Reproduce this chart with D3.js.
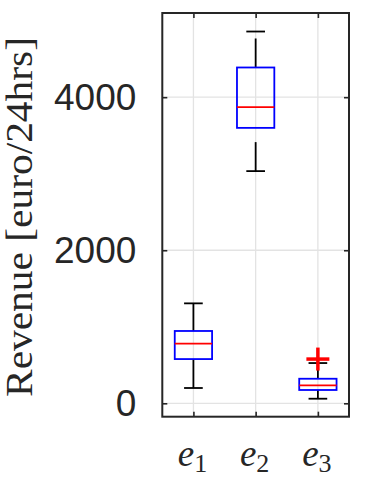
<!DOCTYPE html>
<html><head><meta charset="utf-8">
<script src="https://cdn.jsdelivr.net/npm/d3@7"></script>
<style>body{margin:0;background:#fff}svg{display:block}</style>
</head><body>
<script>
const categories = ["1", "2", "3"];
const q1Values = [578, 3599, 174];
const medianValues = [780, 3869, 235];
const q3Values = [945, 4388, 321];
const whiskerLow = [200, 3034, 60];
const whiskerHigh = [1306, 4858, 526];
const outliers = [[], [], [578]];
const yTicks = [0, 2000, 4000];
const yLabel = "Revenue [euro/24hrs]";

const W = 366, H = 479;
const L = 162.3, R = 349, T = 13, B = 416.7;
const svg = d3.select("body").append("svg").attr("width", W).attr("height", H);

const x = d3.scaleLinear().domain([0.5, 3.5]).range([L, R]);
const y = d3.scaleLinear().domain([-175, 5100]).range([B, T]);
const boxW = x(1.3) - x(1), capW = x(1.15) - x(1);

// grid
const g = svg.append("g");
g.selectAll(".gx").data(categories).enter().append("line")
  .attr("x1", (d,i)=>x(i+1)).attr("x2", (d,i)=>x(i+1)).attr("y1", T).attr("y2", B)
  .attr("stroke", "#e3e3e3").attr("stroke-width", 1.3);
g.selectAll(".gy").data(yTicks).enter().append("line")
  .attr("x1", L).attr("x2", R).attr("y1", d=>y(d)).attr("y2", d=>y(d))
  .attr("stroke", "#e3e3e3").attr("stroke-width", 1.3);

// axes with inward ticks
const axCol = "#262626";
const axL = d3.axisLeft(y).tickValues(yTicks).tickFormat(d3.format("d")).tickSizeInner(-5).tickSizeOuter(0).tickPadding(26);
const axR = d3.axisRight(y).tickValues(yTicks).tickSizeInner(-5).tickSizeOuter(0).tickFormat("");
const axB = d3.axisBottom(x).tickValues([1,2,3]).tickSizeInner(-5).tickSizeOuter(0).tickFormat("");
const axT = d3.axisTop(x).tickValues([1,2,3]).tickSizeInner(-5).tickSizeOuter(0).tickFormat("");
function style(sel){
  sel.selectAll(".domain").remove();
  sel.selectAll(".tick line").attr("stroke", axCol).attr("stroke-width", 1.6);
  sel.selectAll(".tick text").attr("fill", axCol).attr("font-family", "Liberation Sans, Arial, sans-serif").attr("font-size", 37);
}
svg.append("g").attr("transform", `translate(${L},0)`).call(axL).call(style);
svg.append("g").attr("transform", `translate(${R},0)`).call(axR).call(style);
svg.append("g").attr("transform", `translate(0,${B})`).call(axB).call(style);
svg.append("g").attr("transform", `translate(0,${T})`).call(axT).call(style);
svg.append("rect").attr("x", L).attr("y", T).attr("width", R-L).attr("height", B-T)
  .attr("fill", "none").attr("stroke", axCol).attr("stroke-width", 2);

// boxes
const data = categories.map((c,i)=>({i, q1:q1Values[i], med:medianValues[i], q3:q3Values[i], lo:whiskerLow[i], hi:whiskerHigh[i], out:outliers[i]}));
const bg = svg.append("g");
data.forEach(d=>{
  const cx = x(d.i+1);
  bg.append("line").attr("x1", cx).attr("x2", cx).attr("y1", y(d.q3)).attr("y2", y(d.hi))
    .attr("stroke", "#000").attr("stroke-width", 1.8).attr("stroke-dasharray", "29,16");
  bg.append("line").attr("x1", cx).attr("x2", cx).attr("y1", y(d.lo)).attr("y2", y(d.q1))
    .attr("stroke", "#000").attr("stroke-width", 1.8).attr("stroke-dasharray", "29,16");
  [d.lo, d.hi].forEach(v=>bg.append("line").attr("x1", cx-capW).attr("x2", cx+capW).attr("y1", y(v)).attr("y2", y(v))
    .attr("stroke", "#000").attr("stroke-width", 1.8));
  bg.append("rect").attr("x", cx-boxW).attr("width", 2*boxW).attr("y", y(d.q3)).attr("height", y(d.q1)-y(d.q3))
    .attr("fill", "none").attr("stroke", "#0000ff").attr("stroke-width", 1.8);
  bg.append("line").attr("x1", cx-boxW).attr("x2", cx+boxW).attr("y1", y(d.med)).attr("y2", y(d.med))
    .attr("stroke", "#ff0000").attr("stroke-width", 1.8);
  d.out.forEach(v=>{
    bg.append("line").attr("x1", cx-11.5).attr("x2", cx+11.5).attr("y1", y(v)).attr("y2", y(v)).attr("stroke", "#ff0000").attr("stroke-width", 3.5);
    bg.append("line").attr("x1", cx).attr("x2", cx).attr("y1", y(v)-11.5).attr("y2", y(v)+11.5).attr("stroke", "#ff0000").attr("stroke-width", 3.5);
  });
});

// x tick labels e_i
categories.forEach((c,i)=>{
  const t = svg.append("text").attr("x", x(i+1)-1).attr("y", 466).attr("text-anchor", "middle")
    .attr("font-family", "Liberation Serif, 'DejaVu Serif', serif").attr("fill", "#262626");
  t.append("tspan").attr("font-style", "italic").attr("font-size", 37).text("e");
  t.append("tspan").attr("font-size", 26).attr("dy", 6).text(c);
});

// y label
svg.append("text").attr("transform", `translate(32,217) rotate(-90)`).attr("text-anchor", "middle")
  .attr("font-family", "Liberation Serif, 'DejaVu Serif', serif").attr("font-size", 37).attr("fill", "#262626")
  .attr("textLength", 360).attr("lengthAdjust", "spacingAndGlyphs").text(yLabel);
</script>
</body></html>
